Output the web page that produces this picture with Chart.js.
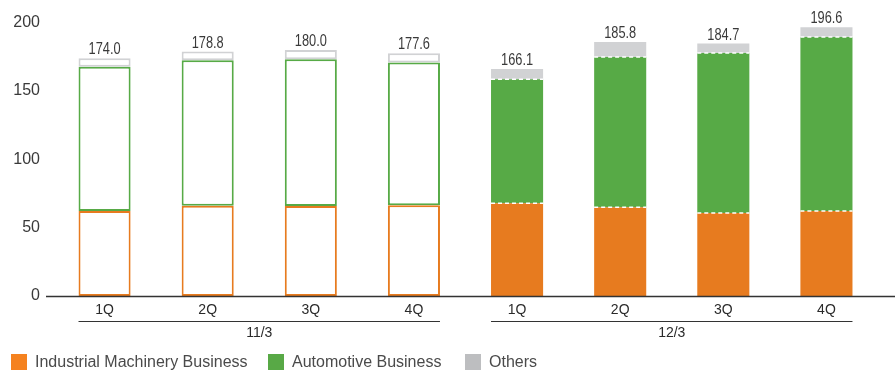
<!DOCTYPE html>
<html>
<head>
<meta charset="utf-8">
<script src="https://cdn.jsdelivr.net/npm/chart.js@4.4.0/dist/chart.umd.min.js"></script>
<style>
html,body{margin:0;padding:0;background:#fff;}
#wrap{position:relative;width:895px;height:371px;}
#chart{position:absolute;left:0;top:0;}
.lg{position:absolute;top:354px;height:16px;font:16px "Liberation Sans",Arial,sans-serif;color:#4a4a4a;line-height:16px;white-space:nowrap;}
.lg i{display:inline-block;width:16px;height:16px;vertical-align:top;margin-right:8px;}
</style>
</head>
<body>
<div id="wrap">
  <canvas id="chart" width="895" height="371"></canvas>
  <div class="lg" style="left:11px"><i style="background:#f5821f"></i>Industrial Machinery Business</div>
  <div class="lg" style="left:268px"><i style="background:#58a946"></i>Automotive Business</div>
  <div class="lg" style="left:465px"><i style="background:#bdbec0"></i>Others</div>
</div>
<script>
/* ---------- data ---------- */
var quarters=['1Q','2Q','3Q','4Q','1Q','2Q','3Q','4Q'];
var periods=['11/3','12/3'];
var periodRange=[[0,3],[4,7]];
var industrial=[62.2,66.0,65.8,66.3,67.8,64.9,60.7,62.2];
var automotive=[105.5,106.4,107.3,104.6,90.7,109.9,117.0,127.2];
var others=[6.3,6.4,6.9,6.7,7.6,11.0,7.0,7.2];
var totals=[174.0,178.8,180.0,177.6,166.1,185.8,184.7,196.6];
var yTicks=[0,50,100,150,200];

var ORANGE='#e77b1f',GREEN='#57aa46',GRAY='#d1d2d4';
var FONT='"Liberation Sans",Arial,sans-serif';

/* first period is drawn as outlines only */
function hollow(i){return i>=periodRange[0][0]&&i<=periodRange[0][1];}

function series(label,data,color){
    return {
        label:label,data:data,
        backgroundColor:data.map(function(v,i){return hollow(i)?'#fff':color;}),
        borderColor:color,
        borderWidth:data.map(function(v,i){return hollow(i)?2:0;}),
        borderSkipped:false,
        barPercentage:0.505,categoryPercentage:1
    };
}

/* ---------- extra drawing: separators, totals, axis, period groups ---------- */
var extras={
    id:'extras',
    afterDatasetsDraw:function(chart){
        var ctx=chart.ctx;
        // white dashed lines between filled segments
        [0,1].forEach(function(d){
            chart.getDatasetMeta(d).data.forEach(function(bar,i){
                if(hollow(i))return;
                ctx.save();
                ctx.strokeStyle='#fff';ctx.lineWidth=1.5;ctx.setLineDash([4,3]);
                ctx.beginPath();
                ctx.moveTo(bar.x-bar.width/2,bar.y);ctx.lineTo(bar.x+bar.width/2,bar.y);
                ctx.stroke();ctx.restore();
            });
        });
        // totals above each stack, horizontally condensed
        chart.getDatasetMeta(2).data.forEach(function(bar,i){
            ctx.save();
            ctx.fillStyle='#3a3a3a';ctx.font='16px '+FONT;
            ctx.textAlign='center';ctx.textBaseline='alphabetic';
            ctx.translate(bar.x,bar.y-4);ctx.scale(0.8,1);
            ctx.fillText(totals[i].toFixed(1),0,0);
            ctx.restore();
        });
    },
    afterDraw:function(chart){
        var ctx=chart.ctx,ys=chart.scales.y,bars=chart.getDatasetMeta(0).data;
        var base=ys.getPixelForValue(0);
        ctx.save();
        ctx.strokeStyle='#333';ctx.lineWidth=1.5;
        ctx.beginPath();ctx.moveTo(46,base+0.5);ctx.lineTo(chart.width,base+0.5);ctx.stroke();
        ctx.lineWidth=1;
        ctx.fillStyle='#2a2a2a';ctx.font='14px '+FONT;
        ctx.textAlign='center';ctx.textBaseline='middle';
        periods.forEach(function(p,k){
            var a=bars[periodRange[k][0]],b=bars[periodRange[k][1]];
            var l=a.x-a.width/2,r=b.x+b.width/2;
            ctx.beginPath();ctx.moveTo(l,321.5);ctx.lineTo(r,321.5);ctx.stroke();
            ctx.fillText(p,(l+r)/2,333);
        });
        ctx.restore();
    }
};

new Chart(document.getElementById('chart'),{
    type:'bar',
    data:{
        labels:quarters,
        datasets:[
            series('Industrial Machinery Business',industrial,ORANGE),
            series('Automotive Business',automotive,GREEN),
            series('Others',others,GRAY)
        ]
    },
    options:{
        responsive:false,animation:false,
        layout:{padding:{top:22,right:17,bottom:0,left:0}},
        plugins:{legend:{display:false},tooltip:{enabled:false}},
        scales:{
            x:{
                stacked:true,
                grid:{display:false,drawTicks:false},border:{display:false},
                ticks:{color:'#2a2a2a',padding:6,font:{size:14,family:FONT}},
                afterFit:function(s){s.height=75;}
            },
            y:{
                stacked:true,min:0,max:200,
                afterBuildTicks:function(s){s.ticks=yTicks.map(function(v){return {value:v};});},
                grid:{display:false,drawTicks:false},border:{display:false},
                ticks:{color:'#3a3a3a',padding:13,font:{size:16,family:FONT}},
                afterFit:function(s){s.width=53;}
            }
        }
    },
    plugins:[extras]
});
</script>
</body>
</html>
